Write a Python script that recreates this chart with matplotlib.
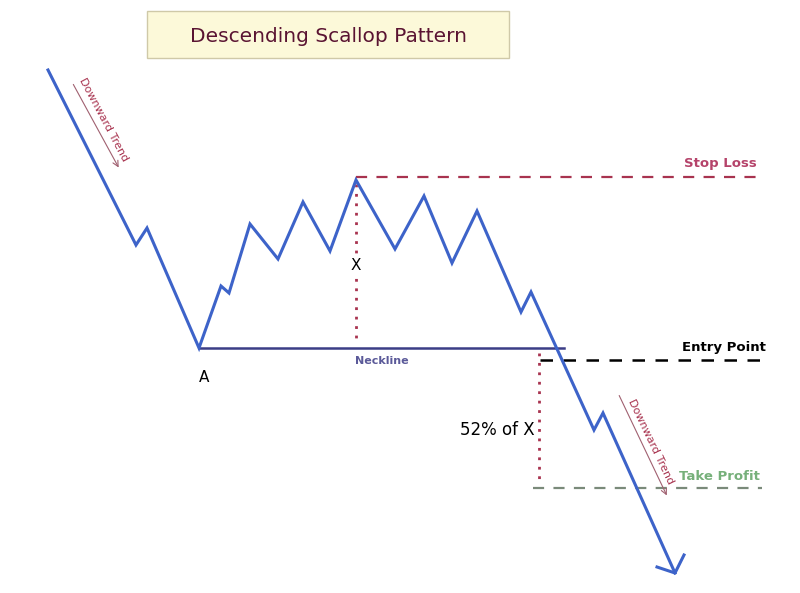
import matplotlib
matplotlib.use("Agg")
import matplotlib.pyplot as plt
from matplotlib.patches import Rectangle, FancyArrowPatch

# Price path (x = time, y = price; price = 593 - screen row)
path_x = [48, 136, 147, 199, 221, 229, 250, 278, 303, 330, 356, 395, 424, 452, 477, 521, 531, 594, 603, 675]
path_y = [523, 348, 365, 245, 307, 300, 369, 334, 391, 342, 413, 344, 397, 330, 382, 281, 301, 163, 180, 20]

neckline_y = 245
stop_loss_y = 416
entry_y = 233
take_profit_y = 105

title = "Descending Scallop Pattern"

fig = plt.figure(figsize=(8, 5.93), dpi=100)
ax = fig.add_axes([0, 0, 1, 1])
ax.set_xlim(0, 800)
ax.set_ylim(0, 593)
ax.axis("off")

blue = "#3d63c9"
crimson = "#a8334f"
font = "DejaVu Sans"

# Title box
ax.add_patch(Rectangle((147, 593 - 58), 362, 47, facecolor="#fcf9d9",
                       edgecolor="#cfc9a8", linewidth=1.0, zorder=1))
ax.text(328, 593 - 36, title, ha="center", va="center", fontsize=14.5,
        color="#5a1432", family=font)

# Neckline
ax.plot([path_x[3], 564], [neckline_y, neckline_y], color="#3b3d86", lw=1.8, zorder=3)
ax.text(382, 593 - 361, "Neckline", ha="center", va="center", fontsize=8,
        color="#5b5a99", fontweight="bold", family=font)

# X measurement (dotted)
ax.plot([path_x[10], path_x[10]], [path_y[10] - 4, neckline_y + 5], color=crimson,
        lw=2, linestyle=(0, (1, 2.4)), zorder=2)
ax.text(path_x[10], 593 - 265, "X", ha="center", va="center", fontsize=11,
        color="black", family=font, zorder=4,
        bbox=dict(facecolor="white", edgecolor="none", pad=1))

# Stop loss
ax.plot([356, 760], [stop_loss_y, stop_loss_y], color=crimson, lw=1.6,
        linestyle=(0, (5, 4.2)), zorder=2)
ax.text(757, 593 - 163, "Stop Loss", ha="right", va="center", fontsize=9.5,
        color="#b5436a", fontweight="bold", family=font)

# Entry point
ax.plot([540, 768], [entry_y, entry_y], color="black", lw=1.8,
        linestyle=(0, (5, 4.2)), zorder=2)
ax.text(766, 593 - 348, "Entry Point", ha="right", va="center", fontsize=9.5,
        color="black", fontweight="bold", family=font)

# 52% of X
ax.plot([539, 539], [593 - 353, take_profit_y + 5], color=crimson, lw=2,
        linestyle=(0, (1, 2.4)), zorder=2)
ax.text(535, 593 - 430, "52% of X", ha="right", va="center", fontsize=12,
        color="black", family=font)

# Take profit
ax.plot([533, 762], [take_profit_y, take_profit_y], color="#7a8a7a", lw=1.6,
        linestyle=(0, (5, 4.2)), zorder=2)
ax.text(760, 593 - 476, "Take Profit", ha="right", va="center", fontsize=9.5,
        color="#76b07a", fontweight="bold", family=font)

# Price path
ax.plot(path_x, path_y, color=blue, lw=2.2, solid_joinstyle="miter", zorder=5)
# Arrowhead at end
ax.plot([657, path_x[-1], 684], [593 - 567, path_y[-1], 593 - 555], color=blue,
        lw=2.2, zorder=5)

# Downward trend annotations
for (x0, y0, x1, y1, tx, ty, rot) in [
        (72, 82, 120, 170, 104, 120, -62),
        (618, 393, 668, 498, 651, 442, -64.5)]:
    ax.add_patch(FancyArrowPatch((x0, 593 - y0), (x1, 593 - y1),
                                 arrowstyle="->,head_length=4,head_width=2",
                                 color="#a06070", lw=0.8, zorder=2))
    ax.text(tx, 593 - ty, "Downward Trend", ha="center", va="center",
            rotation=rot, rotation_mode="anchor", fontsize=8,
            color="#a8334f", family=font)

ax.text(204, 593 - 377, "A", ha="center", va="center", fontsize=11,
        color="black", family=font)

fig.savefig("out.png", dpi=100)
